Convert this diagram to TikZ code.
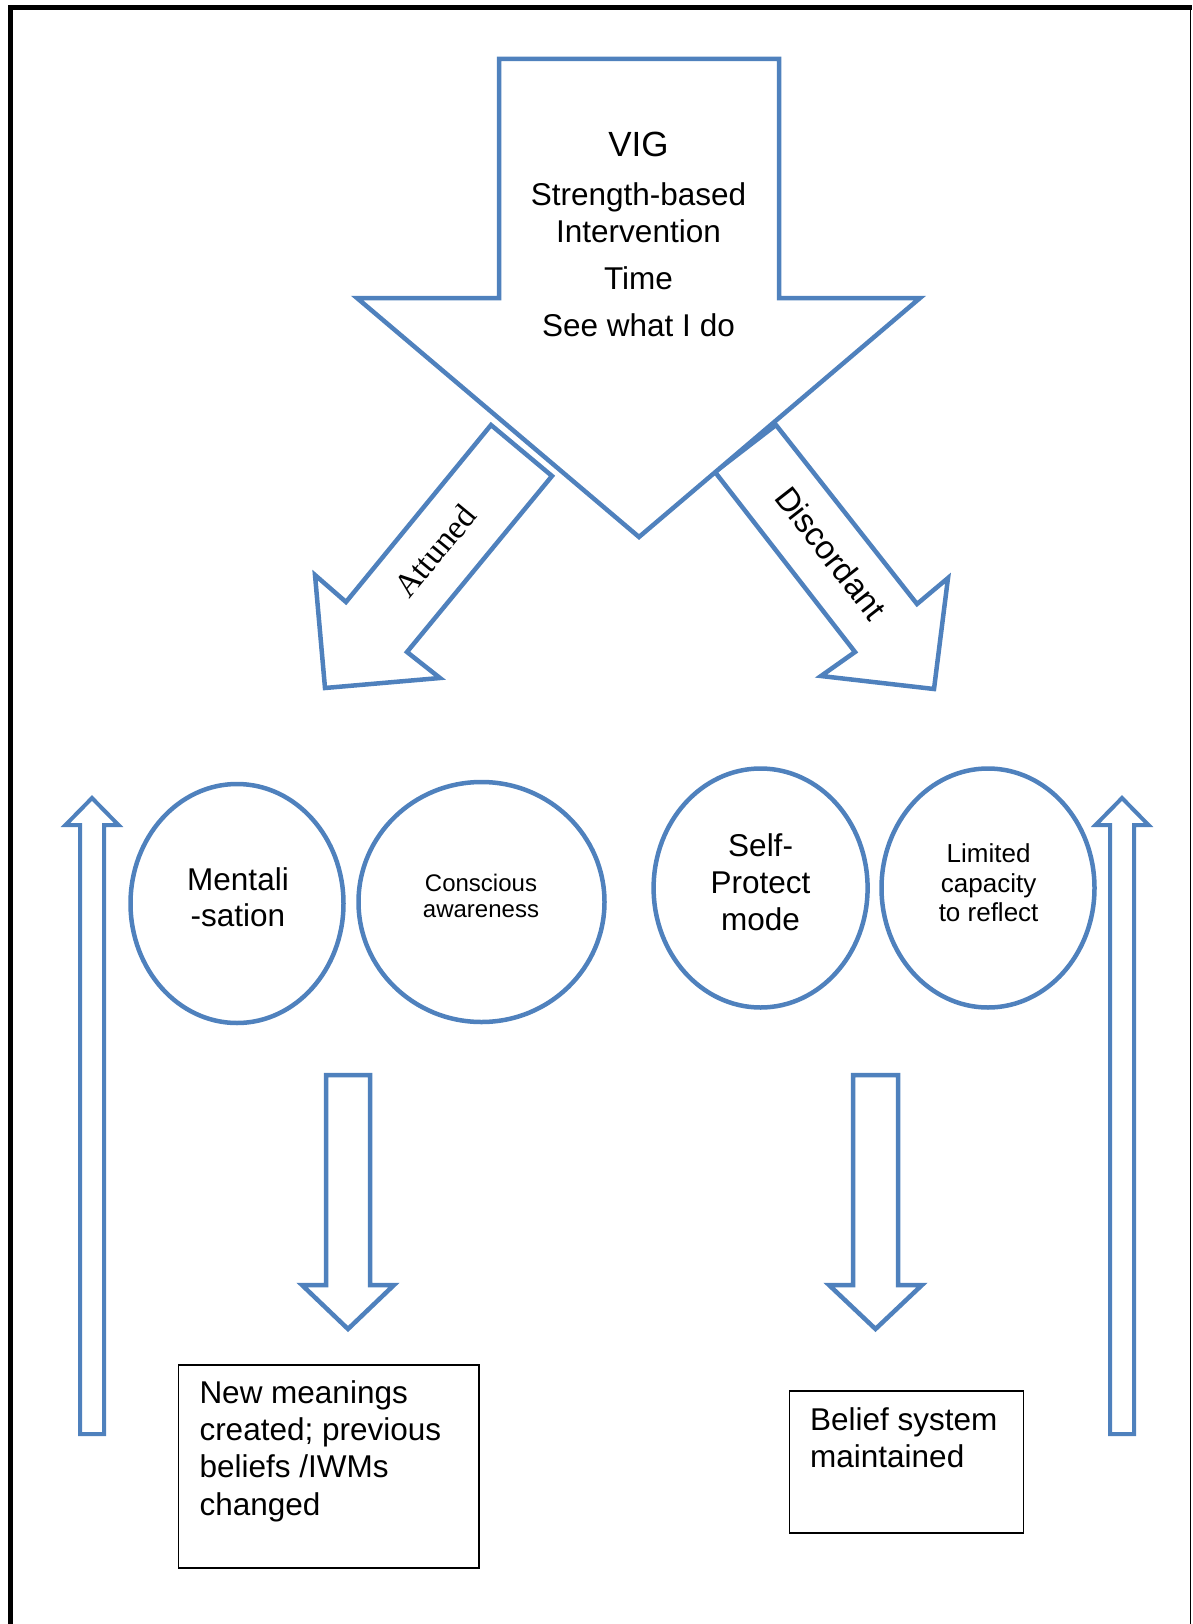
\documentclass[tikz,border=0pt]{standalone}
\usepackage{fontspec}
\setmainfont{Liberation Sans}
\newfontfamily\seriffont{Liberation Serif}
\usetikzlibrary{shapes.geometric}
\definecolor{vigblue}{RGB}{79,129,189}

\begin{document}
\begin{tikzpicture}[x=1pt,y=-1pt,
  blockarrow/.style={draw=vigblue, line width=4.5pt, fill=white, line join=miter},
  bubble/.style={ellipse, draw=vigblue, line width=4.5pt, fill=white, inner sep=0pt},
  outcome/.style={draw=black, line width=1.8pt, fill=white},
  txt/.style={inner sep=0pt, anchor=base},
  ltxt/.style={inner sep=0pt, anchor=base west},
  fbig/.style={font=\fontsize{35}{40}\selectfont},
  fmain/.style={font=\fontsize{31.5}{37}\selectfont},
  fsmall/.style={font=\fontsize{24}{27}\selectfont},
  fmid/.style={font=\fontsize{26}{30}\selectfont}]

\useasboundingbox (0,0) rectangle (1192,1624);

% page frame, open at the bottom
\draw[line width=5pt, line join=miter] (10,1624) -- (10,7.5) -- (1192,7.5);
\draw[line width=1.5pt] (1190.5,10) -- (1190.5,1624);

% branch arrows
\draw[blockarrow] (491,425) -- (552,476) -- (407,652) -- (440,678) -- (325,688) -- (315,575) -- (346,602) -- cycle;
\draw[blockarrow] (776,425) -- (715,472) -- (855,652) -- (821,676) -- (934,689) -- (948,578) -- (917,604) -- cycle;
\node[inner sep=0pt, rotate=50.5, font=\seriffont\fontsize{33.5}{40}\selectfont] (attuned) at (435,551) {Attuned};
\node[inner sep=0pt, rotate=-52, font=\fontsize{33}{40}\selectfont] (discordant) at (831,553) {Discordant};

% main intervention arrow
\draw[blockarrow] (499,59) -- (779,59) -- (779,298) -- (920,298) -- (639,537) -- (357,298) -- (499,298) -- cycle;
\node[txt, fbig]  (vig)   at (638.5,156.7) {VIG};
\node[txt, fmain] (vig2)  at (638.5,205)   {Strength-based};
\node[txt, fmain] (vig3)  at (638.5,242.7) {Intervention};
\node[txt, fmain] (vig4)  at (638.5,289.3) {Time};
\node[txt, fmain] (vig5)  at (638.5,336)   {See what I do};

% states
\node[bubble, minimum width=213pt, minimum height=239pt] (ment) at (237,903.5) {};
\node[bubble, minimum width=246pt, minimum height=240pt] (consc) at (481.5,902) {};
\node[bubble, minimum width=214pt, minimum height=239pt] (selfp) at (760.6,888) {};
\node[bubble, minimum width=213pt, minimum height=239pt] (limit) at (988,888) {};

\node[txt, fmain]  (ment1)  at (238,890.7)   {Mentali};
\node[txt, fmain]  (ment2)  at (238,926.7)   {-sation};
\node[txt, fsmall] (consc1) at (481,891.7)   {Conscious};
\node[txt, fsmall] (consc2) at (481,917.3)   {awareness};
\node[txt, fmain]  (selfp1) at (760.6,856)   {Self-};
\node[txt, fmain]  (selfp2) at (760.6,893.3) {Protect};
\node[txt, fmain]  (selfp3) at (760.6,930)   {mode};
\node[txt, fmid]   (limit1) at (988.6,862)   {Limited};
\node[txt, fmid]   (limit2) at (988.6,892)   {capacity};
\node[txt, fmid]   (limit3) at (988.6,921.5) {to reflect};

% feedback arrows at the sides
\draw[blockarrow, line width=4pt] (80,1434) -- (80,825) -- (65.5,825) -- (92,798) -- (118.5,825) -- (104,825) -- (104,1434) -- cycle;
\draw[blockarrow, line width=4pt] (1110,1434) -- (1110,825) -- (1095.5,825) -- (1122,798) -- (1148.5,825) -- (1134,825) -- (1134,1434) -- cycle;

% outcome arrows
\draw[blockarrow] (326,1075) -- (370,1075) -- (370,1285) -- (394,1285) -- (348,1329) -- (302,1285) -- (326,1285) -- cycle;
\draw[blockarrow] (853,1075) -- (898,1075) -- (898,1285) -- (922,1285) -- (875.5,1329) -- (829,1285) -- (853,1285) -- cycle;

% outcomes
\draw[outcome] (178.5,1365) rectangle (479,1568);
\node[ltxt, fmain] (new1) at (199.3,1403.3) {New meanings};
\node[ltxt, fmain] (new2) at (199.3,1440.7) {created; previous};
\node[ltxt, fmain] (new3) at (199.3,1477.7) {beliefs /IWMs};
\node[ltxt, fmain] (new4) at (199.3,1515)   {changed};

\draw[outcome] (789.5,1391) rectangle (1023.5,1533);
\node[ltxt, fmain] (bel1) at (810,1430)   {Belief system};
\node[ltxt, fmain] (bel2) at (810,1467.3) {maintained};
\end{tikzpicture}
\end{document}
